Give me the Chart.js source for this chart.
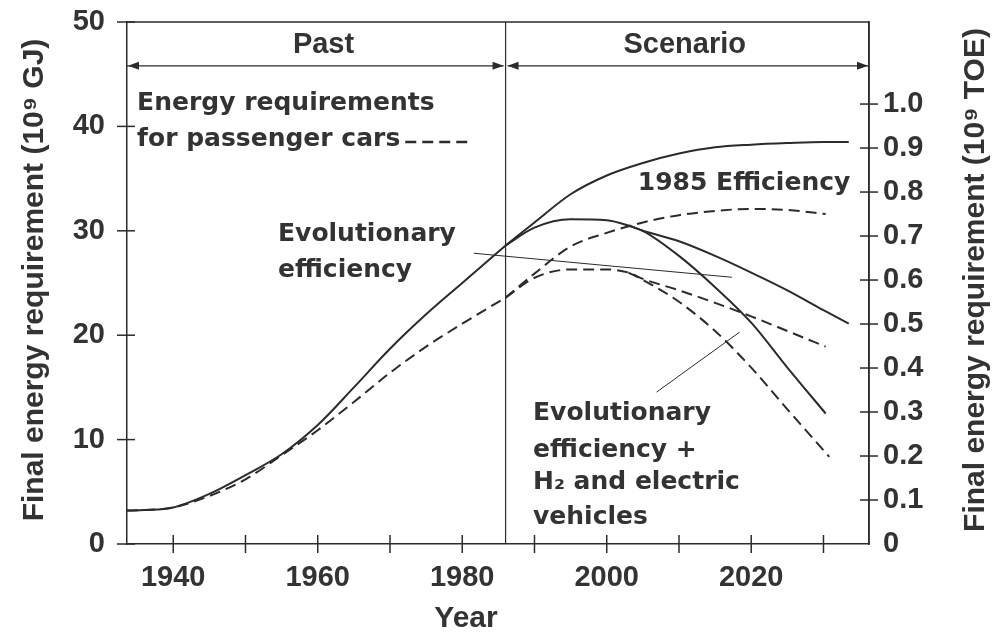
<!DOCTYPE html>
<html>
<head>
<meta charset="utf-8">
<script src="https://cdn.jsdelivr.net/npm/chart.js@4.4.0/dist/chart.umd.min.js"></script>
<style>
    html, body { margin: 0; padding: 0; background: #fff; }
    #wrap { width: 993px; height: 632px; }
</style>
</head>
<body>
<div id="wrap"><canvas id="chart" width="993" height="632"></canvas></div>
<script>
// Values, in 10^9 GJ
const histYears = [1933.6, 1936, 1940, 1945, 1950, 1955, 1960, 1965, 1970, 1975, 1980, 1986];
const histSolid = [3.2, 3.25, 3.5, 4.8, 6.6, 8.6, 11.4, 15.0, 18.7, 22.0, 25.0, 28.6];
const histDashed = [3.2, 3.25, 3.5, 4.6, 6.2, 8.5, 10.9, 13.6, 16.4, 18.9, 21.1, 23.6];

const eff1985Years = [1986, 1990, 1995, 2000, 2005, 2010, 2015, 2020, 2025, 2030, 2033.5];
const eff1985Solid = [28.6, 30.8, 33.5, 35.3, 36.5, 37.4, 38.0, 38.25, 38.4, 38.5, 38.5];
const eff1985DashYears = [1986, 1990, 1995, 2000, 2005, 2010, 2015, 2020, 2025, 2030.3];
const eff1985Dashed = [23.6, 25.9, 28.5, 29.8, 30.8, 31.5, 31.9, 32.1, 32.0, 31.6];

const evolYears = [1986, 1990, 1995, 2000, 2003, 2005, 2010, 2015, 2020, 2025, 2030, 2033.5];
const evolSolid = [28.6, 30.3, 31.1, 31.0, 30.5, 30.0, 29.0, 27.6, 26.0, 24.3, 22.4, 21.1];
const evolDashYears = [1986, 1990, 1995, 2000, 2003, 2005, 2010, 2015, 2020, 2025, 2030.3];
const evolDashed = [23.6, 25.5, 26.3, 26.3, 26.0, 25.4, 24.3, 23.1, 21.8, 20.4, 18.9];

const h2Years = [2003, 2005, 2010, 2015, 2020, 2025, 2030.3];
const h2Solid = [30.5, 30.0, 27.6, 24.6, 21.2, 16.9, 12.5];
const h2DashYears = [2003, 2005, 2010, 2015, 2020, 2025, 2030.8];
const h2Dashed = [26.0, 25.3, 23.2, 20.4, 16.9, 12.9, 8.35];

const xTicks = [1940, 1950, 1960, 1970, 1980, 1990, 2000, 2010, 2020, 2030];
const gjTicks = [0, 10, 20, 30, 40, 50];
const toeTicks = [0, 0.1, 0.2, 0.3, 0.4, 0.5, 0.6, 0.7, 0.8, 0.9, 1.0];
const splitYear = 1986;
const gjPerToe = 42.14;

const ink = '#2b2b2b';
const textInk = '#333';
const AXIS_FONT = '"Liberation Sans", Arial, sans-serif';
const NOTE_FONT = '"DejaVu Sans", sans-serif';
const dash = [11, 6];

function pts(years, vals) {
    return years.map((x, i) => ({ x: x, y: vals[i] }));
}

function series(years, vals, dashed) {
    return {
        data: pts(years, vals),
        borderColor: ink,
        borderWidth: 2,
        borderDash: dashed ? dash : [],
        pointRadius: 0,
        fill: false,
        cubicInterpolationMode: 'monotone'
    };
}

// text placed in data coordinates (year, GJ)
const notes = [
    { text: 'Past', x: 1960.8, y: 47.75, align: 'center', font: 'bold 29px ' + AXIS_FONT },
    { text: 'Scenario', x: 2010.8, y: 47.75, align: 'center', font: 'bold 29px ' + AXIS_FONT },
    { text: 'Energy requirements', x: 1935.0, y: 42.2, align: 'left' },
    { text: 'for passenger cars', x: 1935.0, y: 38.7, align: 'left', dashAfter: true },
    { text: 'Evolutionary', x: 1954.5, y: 29.6, align: 'left' },
    { text: 'efficiency', x: 1954.5, y: 26.2, align: 'left' },
    { text: '1985 Efficiency', x: 2004.3, y: 34.5, align: 'left' },
    { text: 'Evolutionary', x: 1989.8, y: 12.5, align: 'left' },
    { text: 'efficiency +', x: 1989.8, y: 9.0, align: 'left' },
    { text: 'H\u2082 and electric', x: 1989.8, y: 5.85, align: 'left' },
    { text: 'vehicles', x: 1989.8, y: 2.5, align: 'left' }
];

const leaders = [
    [1981.6, 27.85, 2017.3, 25.55],
    [2006.9, 14.55, 2018.4, 20.3]
];

const overlay = {
    id: 'overlay',
    afterDraw(chart) {
        const ctx = chart.ctx;
        const a = chart.chartArea;
        const x = chart.scales.x, y = chart.scales.y, y2 = chart.scales.y2;
        const seg = (x1, y1, x2, y2_, w) => {
            ctx.lineWidth = w;
            ctx.beginPath();
            ctx.moveTo(x1, y1);
            ctx.lineTo(x2, y2_);
            ctx.stroke();
        };
        ctx.save();
        ctx.strokeStyle = ink;
        ctx.fillStyle = ink;

        // top and right frame
        ctx.lineWidth = 1.5;
        ctx.beginPath();
        ctx.moveTo(a.left, a.top);
        ctx.lineTo(a.right, a.top);
        ctx.lineTo(a.right, a.bottom);
        ctx.stroke();

        // past / scenario divider
        const xd = x.getPixelForValue(splitYear);
        seg(xd, a.top, xd, a.bottom, 1.2);

        // tick marks crossing the axes
        xTicks.forEach(v => {
            const px = x.getPixelForValue(v);
            seg(px, a.bottom - 9, px, a.bottom + 9, 1.5);
        });
        gjTicks.forEach(v => {
            const py = y.getPixelForValue(v);
            seg(a.left - 10, py, a.left + 8, py, 1.5);
        });
        toeTicks.forEach(v => {
            if (v === 0) return;
            const py = y2.getPixelForValue(v);
            seg(a.right - 9, py, a.right + 9, py, 1.5);
        });

        // arrows
        const ay = y.getPixelForValue(45.8);
        const head = (px, dir) => {
            ctx.beginPath();
            ctx.moveTo(px, ay);
            ctx.lineTo(px - dir * 11, ay - 4);
            ctx.lineTo(px - dir * 11, ay + 4);
            ctx.closePath();
            ctx.fill();
        };
        seg(a.left, ay, xd - 2, ay, 1.3);
        head(a.left + 1, -1);
        head(xd - 2, 1);
        seg(xd + 2, ay, a.right, ay, 1.3);
        head(xd + 2, -1);
        head(a.right - 1, 1);

        // leader lines
        leaders.forEach(l => {
            seg(x.getPixelForValue(l[0]), y.getPixelForValue(l[1]),
                x.getPixelForValue(l[2]), y.getPixelForValue(l[3]), 1);
        });

        // annotations
        ctx.fillStyle = textInk;
        ctx.textBaseline = 'middle';
        notes.forEach(n => {
            ctx.font = n.font || ('bold 25px ' + NOTE_FONT);
            ctx.textAlign = n.align;
            const px = x.getPixelForValue(n.x), py = y.getPixelForValue(n.y);
            ctx.fillText(n.text, px, py);
            if (n.dashAfter) {
                const w = ctx.measureText(n.text).width;
                ctx.lineWidth = 2.5;
                ctx.setLineDash([11, 6]);
                ctx.beginPath();
                ctx.moveTo(px + w + 5, py + 2);
                ctx.lineTo(px + w + 68, py + 2);
                ctx.stroke();
                ctx.setLineDash([]);
            }
        });

        // axis titles, both reading bottom to top
        ctx.font = 'bold 30px ' + AXIS_FONT;
        ctx.textAlign = 'center';
        const title = (txt, cx, cy) => {
            ctx.save();
            ctx.translate(cx, cy);
            ctx.rotate(-Math.PI / 2);
            ctx.fillText(txt, 0, 0);
            ctx.restore();
        };
        title('Final energy requirement (10\u2079 GJ)', 35, 280);
        title('Final energy requirement (10\u2079 TOE)', 976, 280);
        ctx.textBaseline = 'alphabetic';
        ctx.fillText('Year', 466, 627);

        ctx.restore();
    }
};

const tickFont = { family: AXIS_FONT, size: 29, weight: 'bold' };
const noPad = s => { s.paddingTop = 0; s.paddingBottom = 0; s.paddingLeft = 0; s.paddingRight = 0; };

new Chart(document.getElementById('chart'), {
    type: 'line',
    data: {
        datasets: [
            series(histYears, histSolid, false),
            series(histYears, histDashed, true),
            series(eff1985Years, eff1985Solid, false),
            series(eff1985DashYears, eff1985Dashed, true),
            series(evolYears, evolSolid, false),
            series(evolDashYears, evolDashed, true),
            series(h2Years, h2Solid, false),
            series(h2DashYears, h2Dashed, true)
        ]
    },
    options: {
        responsive: false,
        animation: false,
        layout: { padding: { top: 22, left: 0, right: 0, bottom: 0 } },
        plugins: { legend: { display: false }, tooltip: { enabled: false } },
        scales: {
            x: {
                type: 'linear',
                min: 1933.6,
                max: 2036.3,
                afterBuildTicks: s => { s.ticks = xTicks.map(v => ({ value: v })); },
                afterFit: s => { s.height = 88; noPad(s); },
                grid: { display: false, drawTicks: false },
                border: { display: true, color: ink, width: 1.5 },
                ticks: {
                    color: textInk, font: tickFont, padding: 17, autoSkip: false, maxRotation: 0,
                    callback: v => (v % 20 === 0 ? String(v) : '')
                }
            },
            y: {
                position: 'left',
                min: 0,
                max: 50,
                afterBuildTicks: s => { s.ticks = gjTicks.map(v => ({ value: v })); },
                afterFit: s => { s.width = 127; noPad(s); },
                grid: { display: false, drawTicks: false },
                border: { display: true, color: ink, width: 1.5 },
                ticks: { color: textInk, font: tickFont, padding: 22, callback: v => String(v) }
            },
            y2: {
                position: 'right',
                min: 0,
                max: 50 / gjPerToe,
                afterBuildTicks: s => { s.ticks = toeTicks.map(v => ({ value: v })); },
                afterFit: s => { s.width = 124; noPad(s); },
                grid: { display: false, drawTicks: false },
                border: { display: true, color: ink, width: 1.5 },
                ticks: {
                    color: textInk, font: tickFont, padding: 14,
                    callback: v => (v === 0 ? '0' : v.toFixed(1))
                }
            }
        }
    },
    plugins: [overlay]
});
</script>
</body>
</html>
